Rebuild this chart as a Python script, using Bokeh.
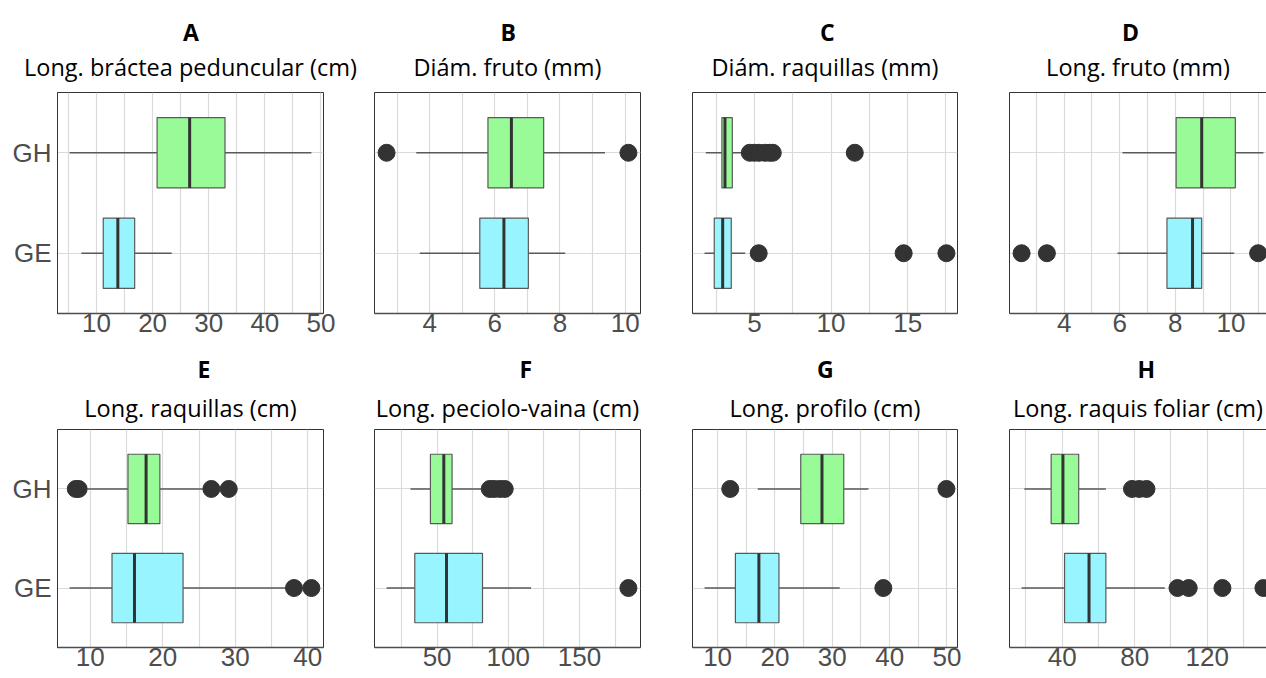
from bokeh.plotting import figure
from bokeh.layouts import row, column
from bokeh.models import Range1d, FixedTicker, Title, LinearAxis
from bokeh.embed import file_html
from bokeh.resources import INLINE

# ---------------- data ----------------
groups = ["GE", "GH"]
group_pos = [1, 2]
box_colors = ["#98F5FF", "#98FB98"]

letters = ["A", "B", "C", "D", "E", "F", "G", "H"]
subtitles = [
    "Long. bráctea peduncular (cm)",
    "Diám. fruto (mm)",
    "Diám. raquillas (mm)",
    "Long. fruto (mm)",
    "Long. raquillas (cm)",
    "Long. peciolo-vaina (cm)",
    "Long. profilo (cm)",
    "Long. raquis foliar (cm)",
]

# each entry: [GE, GH]
whisker_low = [
    [7.3, 5.2],
    [3.70, 3.59],
    [1.75, 1.83],
    [5.92, 6.10],
    [7.15, 9.6],
    [14.5, 31.3],
    [7.73, 17.0],
    [17.6, 19.1],
]
q1 = [
    [11.2, 20.8],
    [5.54, 5.79],
    [2.38, 2.88],
    [7.70, 8.03],
    [13.0, 15.2],
    [34.3, 45.3],
    [13.1, 24.5],
    [41.3, 33.9],
]
median = [
    [13.8, 26.6],
    [6.28, 6.51],
    [2.93, 3.08],
    [8.62, 8.95],
    [16.1, 17.7],
    [56.6, 54.7],
    [17.2, 28.2],
    [54.8, 40.4],
]
q3 = [
    [16.8, 32.9],
    [7.03, 7.50],
    [3.49, 3.56],
    [8.95, 10.16],
    [22.8, 19.6],
    [81.9, 60.5],
    [20.7, 32.0],
    [64.1, 49.1],
]
whisker_high = [
    [23.4, 48.3],
    [8.16, 9.38],
    [4.4, 4.2],
    [10.12, 11.17],
    [37.0, 25.5],
    [116.0, 82.8],
    [31.3, 36.3],
    [96.6, 64.1],
]
outliers = [
    [[], []],
    [[], [2.68, 10.1]],
    [[5.28, 14.74, 17.53], [4.7, 5.0, 5.3, 5.7, 6.0, 6.2, 11.55]],
    [[2.47, 3.38, 10.98], []],
    [[38.1, 40.5], [8.0, 8.4, 26.7, 29.1]],
    [[184.4], [87.0, 90.0, 94.0, 97.5]],
    [[38.9], [12.2, 49.9]],
    [[103.6, 109.8, 128.4, 151.0], [78.5, 82.5, 86.5]],
]
major_ticks = [
    [10, 20, 30, 40, 50],
    [4, 6, 8, 10],
    [5, 10, 15],
    [4, 6, 8, 10],
    [10, 20, 30, 40],
    [50, 100, 150],
    [10, 20, 30, 40, 50],
    [40, 80, 120],
]

# ---------------- layout / style ----------------
FULL_W = 266
frame_w = [266, 266, 265, 257]
border_l = [57, 15, 26, 26]
border_r = [36, 26, 26, 0]
row_frame_h = [221, 218]
row_border_top = [92, 86]
row_border_bottom = [30, 30]
sub_standoff = [19, 11]
letter_standoff = [-17, -1]
letter_shift = [0, 0, 2, -8, 13, 18, 0, 8]
letter_w = [15, 14, 14, 16, 12, 12, 16, 17]

GRID = "#DADADA"
BORDER = "#333333"
LINE = "#595959"
DARK = "#333333"
TICK_FONT = "Liberation Sans"
TITLE_FONT = "Open Sans"


def make_panel(i):
    col = i % 4
    r = i // 4
    fw = frame_w[col]
    vals = whisker_low[i] + whisker_high[i] + [v for g in outliers[i] for v in g]
    lo, hi = min(vals), max(vals)
    pad = 0.05 * (hi - lo)
    start, end = lo - pad, hi + pad
    end = start + (end - start) * fw / FULL_W

    p = figure(
        title=None,
        frame_width=fw,
        frame_height=row_frame_h[r],
        x_range=Range1d(start, end),
        y_range=Range1d(0.4, 2.6),
        output_backend="svg",
        toolbar_location=None,
        min_border_left=border_l[col],
        min_border_right=border_r[col],
        min_border_top=row_border_top[r],
        min_border_bottom=row_border_bottom[r],
        background_fill_color="white",
        border_fill_color="white",
    )

    ticks = major_ticks[i]
    step = ticks[1] - ticks[0]
    minors = [t - step / 2 for t in ticks] + [ticks[-1] + step / 2]
    xt = FixedTicker(ticks=ticks, minor_ticks=minors)
    p.xaxis.ticker = xt
    p.xgrid.ticker = xt
    p.xgrid.grid_line_color = GRID
    p.xgrid.grid_line_width = 1.2
    p.xgrid.minor_grid_line_color = GRID
    p.xgrid.minor_grid_line_width = 1.2
    p.ygrid.ticker = FixedTicker(ticks=group_pos)
    p.ygrid.grid_line_color = GRID
    p.ygrid.grid_line_width = 1.2

    for ax in [p.xaxis[0], p.yaxis[0]]:
        ax.major_label_text_font = TICK_FONT
        ax.major_label_text_font_size = "26px"
        ax.major_label_text_color = "#4D4D4D"
        ax.major_tick_out = 0
        ax.major_tick_in = 0
        ax.minor_tick_out = 0
        ax.minor_tick_in = 0
        ax.axis_line_color = "#4D4D4D"
    p.xaxis.major_label_standoff = 0
    p.xaxis.axis_line_width = 1.5

    if col == 0:
        p.yaxis.ticker = FixedTicker(ticks=group_pos)
        p.yaxis.major_label_overrides = {group_pos[k]: groups[k] for k in range(len(groups))}
        p.yaxis.major_label_standoff = 6
        p.yaxis.axis_line_color = BORDER
    elif col == 3:
        p.yaxis.ticker = FixedTicker(ticks=[])
        p.yaxis.axis_line_color = BORDER
    else:
        p.yaxis.visible = False

    if col == 3:
        p.outline_line_color = None
        top = LinearAxis(ticker=FixedTicker(ticks=[]), axis_line_color=BORDER,
                         major_tick_out=0, major_tick_in=0, minor_tick_out=0, minor_tick_in=0)
        p.add_layout(top, "above")
    else:
        p.outline_line_color = BORDER
        p.outline_line_width = 1

    # whiskers
    p.segment(x0=whisker_low[i], x1=q1[i], y0=group_pos, y1=group_pos,
              line_color=LINE, line_width=1.5)
    p.segment(x0=q3[i], x1=whisker_high[i], y0=group_pos, y1=group_pos,
              line_color=LINE, line_width=1.5)
    # boxes
    bh = 0.7
    p.hbar(y=group_pos, left=q1[i], right=q3[i], height=bh,
           fill_color=box_colors, line_color=LINE, line_width=1.2)
    # medians
    p.segment(x0=median[i], x1=median[i],
              y0=[y - bh / 2 for y in group_pos], y1=[y + bh / 2 for y in group_pos],
              line_color=DARK, line_width=3)
    # outliers
    ox, oy = [], []
    for g in range(len(groups)):
        ox += outliers[i][g]
        oy += [group_pos[g]] * len(outliers[i][g])
    if ox:
        p.scatter(x=ox, y=oy, size=17, fill_color=DARK, line_color=DARK)

    p.add_layout(Title(text=subtitles[i], text_font=TITLE_FONT, text_font_size="23.5px",
                       text_font_style="normal", text_color="black", align="center",
                       standoff=sub_standoff[r]), "above")
    p.add_layout(Title(text=letters[i], text_font=TITLE_FONT, text_font_size="23px",
                       text_font_style="bold", text_color="black", align="left",
                       offset=fw / 2 + letter_shift[i] - letter_w[i] / 2,
                       standoff=letter_standoff[r]), "above")
    return p


figs = [make_panel(i) for i in range(8)]
layout = column(row(*figs[:4]), row(*figs[4:]))

open("out.html", "w").write(file_html(layout, INLINE))
